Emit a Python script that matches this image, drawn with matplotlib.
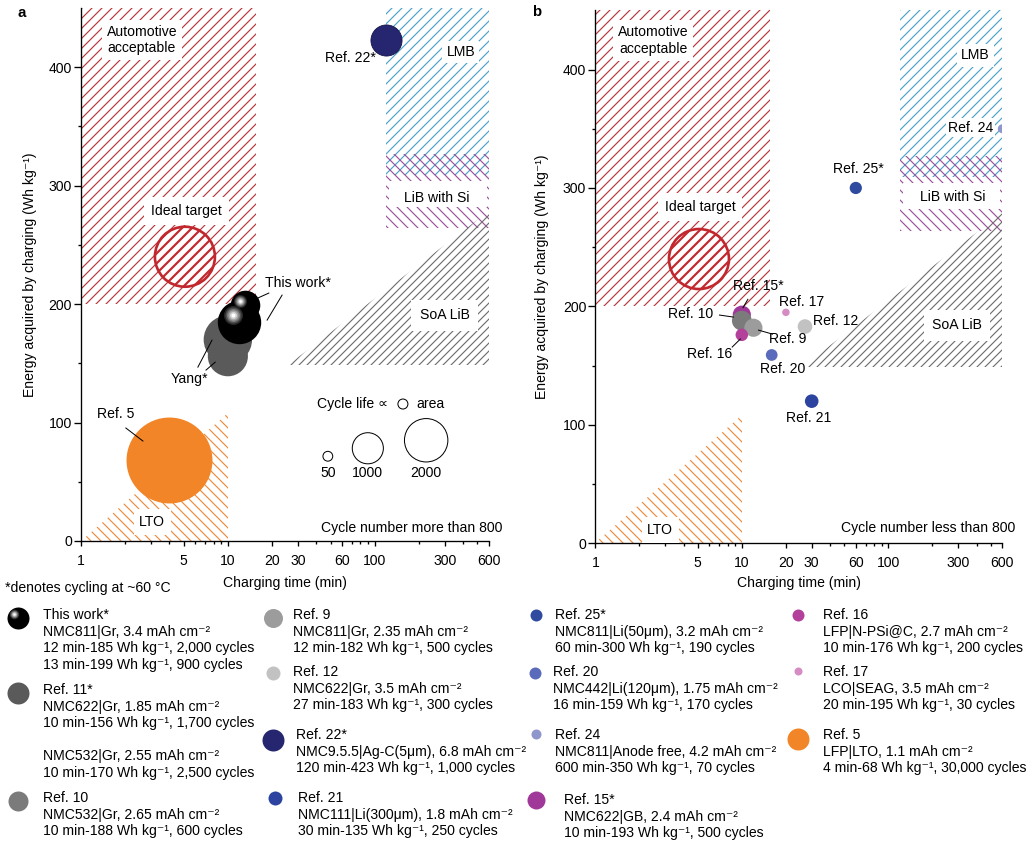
import numpy as np
import matplotlib
matplotlib.use('Agg')
import matplotlib as mpl
import matplotlib.pyplot as plt
from matplotlib.patches import Polygon, Rectangle
from matplotlib.transforms import offset_copy
from matplotlib.ticker import FixedLocator, FixedFormatter, NullFormatter

# ---------------- data ----------------
x_ticks = [1, 5, 10, 20, 30, 60, 100, 300, 600]
x_ticklabels = ['1', '5', '10', '20', '30', '60', '100', '300', '600']
x_minor = [2, 3, 4, 6, 7, 8, 9, 40, 50, 70, 80, 90, 200, 400, 500]
y_ticks = [0, 100, 200, 300, 400]
y_minor = [50, 150, 250, 350]

# regions (charging time, energy)
auto_x = [1, 15.5, 15.5, 1]
auto_y = [200, 200, 450, 450]
lmb_x = [120, 600, 600, 120]
lmb_y = [309, 309, 450, 450]
si_x = [120, 600, 600, 120]
si_y = [264, 264, 327, 327]
soa_x = [25.7, 600, 600]
soa_y = [148.5, 148.5, 279]
lto_x = [1, 10, 10]
lto_y = [0, 0, 108]
ideal_x, ideal_y = 5.1, 240

# panel a: cycle number more than 800
this_work_time = [12, 13]
this_work_energy = [185, 199]
this_work_cycles = [2000, 900]
yang_time = [10, 10]
yang_energy = [156, 170]
yang_cycles = [1700, 2500]
ref22_time, ref22_energy, ref22_cycles = 120, 423, 1000
ref5_time, ref5_energy, ref5_cycles = 4, 68, 30000
legend_cycles = [50, 1000, 2000]

# panel b: cycle number less than 800
b_names = ['Ref. 15*', 'Ref. 10', 'Ref. 9', 'Ref. 16', 'Ref. 17', 'Ref. 12',
           'Ref. 20', 'Ref. 21', 'Ref. 25*', 'Ref. 24']
b_time = [10, 10, 12, 10, 20, 27, 16, 30, 60, 600]
b_energy = [193, 188, 182, 176, 195, 183, 159, 120, 300, 350]
b_cycles = [500, 600, 500, 200, 30, 300, 170, 250, 190, 70]
b_colors = ['#a0389a', '#7b7b7b', '#9c9c9c', '#b3409b', '#d68cc3', '#c2c2c2',
            '#5b6bbb', '#2c44a0', '#2f4b9f', '#8f96cc']

# ---------------- style ----------------
plt.rcParams['font.family'] = ['Liberation Sans', 'DejaVu Sans']
plt.rcParams['font.size'] = 8.4
plt.rcParams['hatch.linewidth'] = 0.7

RED = '#b8363d'
BLUE = '#4aa3c8'
PURPLE = '#9c4f9c'
GRAY = '#707070'
ORANGE_H = '#ec8a3c'
ORANGE = '#f28527'
NAVY = '#25266f'
YANG = '#5a5a5a'
FS = 8.4

DPI = 120
W, H = 1032, 846
fig = plt.figure(figsize=(W / DPI, H / DPI), dpi=DPI)


def px_axes(x0, x1, ytop, ybot):
    return fig.add_axes([x0 / W, 1 - ybot / H, (x1 - x0) / W, (ybot - ytop) / H])


axA = px_axes(81, 489, 8, 541)
axB = px_axes(595.3, 1002.3, 10.3, 543.3)

size_a = lambda c: 0.33 * np.minimum(np.asarray(c, float), 8000) + 18
size_b = lambda c: 0.21 * np.asarray(c, float) + 14


def setup(ax, ylab_x, xlab_y):
    ax.set_xscale('log')
    ax.set_xlim(1, 600)
    ax.set_ylim(0, 450)
    for sp in ['top', 'right']:
        ax.spines[sp].set_visible(False)
    for sp in ['left', 'bottom']:
        ax.spines[sp].set_linewidth(0.8)
    ax.xaxis.set_major_locator(FixedLocator(x_ticks))
    ax.xaxis.set_major_formatter(FixedFormatter(x_ticklabels))
    ax.xaxis.set_minor_locator(FixedLocator(x_minor))
    ax.xaxis.set_minor_formatter(NullFormatter())
    ax.set_yticks(y_ticks)
    ax.set_yticks(y_minor, minor=True)
    ax.tick_params(which='major', length=3.5, width=0.8, labelsize=FS)
    ax.tick_params(which='minor', length=2.0, width=0.8)
    ax.tick_params(axis='x', which='major', length=3.2, pad=4.5)
    ax.tick_params(axis='y', which='major', length=4.0, pad=1.5)
    ax.set_xlabel('Charging time (min)', fontsize=FS)
    ax.set_ylabel('Energy acquired by charging (Wh kg\u207b\u00b9)', fontsize=FS)
    ax.yaxis.set_label_coords(ylab_x, 0.5)
    ax.xaxis.set_label_coords(0.5, xlab_y)

    # regions
    ax.add_patch(Polygon(list(zip(auto_x, auto_y)), closed=True, fc='none', ec=RED,
                         lw=0, hatch='////', zorder=1))
    ax.add_patch(Polygon(list(zip(lmb_x, lmb_y)), closed=True, fc='none', ec=BLUE,
                         lw=0, hatch='////', zorder=1))
    ax.add_patch(Polygon(list(zip(si_x, si_y)), closed=True, fc='none', ec=PURPLE,
                         lw=0, hatch='\\\\\\\\', zorder=1))
    ax.add_patch(Polygon(list(zip(soa_x, soa_y)), closed=True, fc='none', ec=GRAY,
                         lw=0, hatch='/////', zorder=1))
    ax.add_patch(Polygon(list(zip(lto_x, lto_y)), closed=True, fc='none', ec=ORANGE_H,
                         lw=0, hatch='\\\\\\\\', zorder=1))
    # white box behind "LiB with Si"
    ax.add_patch(Rectangle((126, 282), 580 - 126, 22, fc='white', ec='none', zorder=1.5))
    # ideal target
    with mpl.rc_context({'hatch.color': '#c1272d', 'hatch.linewidth': 1.3}):
        sc = ax.scatter([ideal_x], [ideal_y], s=1296, facecolor='white', edgecolor='#c1272d',
                        linewidths=1.6, hatch='////', zorder=2)
        if hasattr(sc, 'set_hatch_linewidth'):
            sc.set_hatch_linewidth(1.3)


setup(axA, -0.108, -0.066)
setup(axB, -0.114, -0.061)

box = dict(boxstyle='square,pad=0.3', fc='white', ec='none')


def region_labels(ax, auto_pos, ideal_pos, lmb_pos, si_pos, soa_pos, lto_pos):
    ax.text(*auto_pos, 'Automotive\nacceptable', ha='center', va='center', fontsize=FS,
            linespacing=1.25, bbox=dict(boxstyle='square,pad=0.35', fc='white', ec='none'),
            zorder=3)
    ax.text(*ideal_pos, 'Ideal target', ha='center', va='center', fontsize=FS,
            bbox=dict(boxstyle='square,pad=0.5', fc='white', ec='none'), zorder=3)
    ax.text(*lmb_pos, 'LMB', ha='center', va='center', fontsize=FS, bbox=box, zorder=3)
    ax.text(*si_pos, 'LiB with Si', ha='center', va='center', fontsize=FS, zorder=3)
    ax.text(*soa_pos, 'SoA LiB', ha='center', va='center', fontsize=FS,
            bbox=dict(boxstyle='square,pad=0.6', fc='white', ec='none'), zorder=3)
    ax.text(*lto_pos, 'LTO', ha='center', va='center', fontsize=FS,
            bbox=dict(boxstyle='square,pad=0.4', fc='white', ec='none'), zorder=3)


region_labels(axA, (2.6, 423), (5.25, 278.5), (386, 412.6), (265, 290), (300, 190.7), (3.05, 16))
region_labels(axB, (2.48, 424.7), (5.18, 283.8), (392, 412), (277, 292), (295, 184), (2.77, 11.2))


def sphere(ax, x, y, s, zorder, trans=None):
    base = ax.transData if trans is None else trans
    ax.scatter([x], [y], s=s, c='black', lw=0, zorder=zorder, transform=base)
    R = np.sqrt(s) / 2.0
    tr = offset_copy(base, fig=fig, x=-0.32 * R, y=0.32 * R, units='points')
    for frac, col in [(0.44, '#262626'), (0.37, '#4f4f4f'), (0.30, '#7d7d7d'),
                      (0.23, '#a8a8a8'), (0.16, '#d5d5d5'), (0.09, '#ffffff')]:
        ax.scatter([x], [y], s=(2 * frac * R) ** 2, c=col, lw=0, transform=tr,
                   zorder=zorder + 0.01)


# ---- panel a marks ----
axA.scatter(yang_time, yang_energy, s=size_a(yang_cycles), c=YANG, lw=0, zorder=4)
for t, e, c in zip(this_work_time, this_work_energy, this_work_cycles):
    sphere(axA, t, e, float(size_a(c)), 5)
axA.scatter([ref22_time], [ref22_energy], s=size_a(ref22_cycles), c=NAVY,
            edgecolor='#15154a', lw=0.5, zorder=4)
axA.scatter([ref5_time], [ref5_energy], s=size_a(ref5_cycles), c=ORANGE, lw=0, zorder=4)

lk = dict(color='black', lw=0.6, zorder=6)
axA.text(29.8, 217.7, 'This work*', ha='center', va='center', fontsize=FS, zorder=6)
axA.plot([15.9, 19.0], [205, 209.3], **lk)
axA.plot([23.4, 18.5], [207.6, 186.5], **lk)
axA.text(5.5, 136.7, 'Yang*', ha='center', va='center', fontsize=FS, zorder=6)
axA.plot([6.25, 7.8], [146.8, 169.6], **lk)
axA.plot([7.1, 8.2], [144.3, 151], **lk)
axA.text(102, 408, 'Ref. 22*', ha='right', va='center', fontsize=FS, zorder=6)
axA.text(1.73, 107, 'Ref. 5', ha='center', va='center', fontsize=FS, zorder=6)
axA.plot([2.02, 2.64], [95.4, 84.4], **lk)

# cycle life legend
axA.text(0.752, 0.257, 'Cycle life \u221d', transform=axA.transAxes, ha='right',
         va='center', fontsize=FS)
axA.scatter([0.789], [0.257], s=36, facecolor='none', edgecolor='black', lw=0.6,
            transform=axA.transAxes, clip_on=False)
axA.text(0.821, 0.257, 'area', transform=axA.transAxes, ha='left', va='center', fontsize=FS)
for fx, fy, c in zip([0.605, 0.703, 0.846], [0.159, 0.174, 0.189], legend_cycles):
    axA.scatter([fx], [fy], s=size_a(c), facecolor='none', edgecolor='black', lw=0.6,
                transform=axA.transAxes, clip_on=False, zorder=4)
    axA.text(fx, 0.128, f'{c}', transform=axA.transAxes, ha='center', va='center',
             fontsize=FS)
axA.text(1.032, 0.024, 'Cycle number more than 800', transform=axA.transAxes,
         ha='right', va='center', fontsize=FS)

# ---- panel b marks ----
axB.scatter(b_time, b_energy, s=size_b(b_cycles), c=b_colors, lw=0, zorder=4)
b_label_pos = {'Ref. 15*': (12.9, 217), 'Ref. 17': (25.8, 203.6), 'Ref. 12': (44, 187.6),
               'Ref. 10': (4.5, 193.5), 'Ref. 9': (20.7, 172.4), 'Ref. 16': (6.07, 159.8),
               'Ref. 20': (18.9, 147), 'Ref. 21': (28.8, 105.7), 'Ref. 25*': (62.4, 315.8)}
for name in b_names:
    if name in b_label_pos:
        axB.text(*b_label_pos[name], name, ha='center', va='center', fontsize=FS, zorder=6)
axB.text(521, 351, 'Ref. 24', ha='right', va='center', fontsize=FS, zorder=6,
         bbox=dict(boxstyle='square,pad=0.15', fc='white', ec='none'))
axB.plot([10.2, 11.0], [199, 206], **lk)
axB.plot([7.04, 8.77], [192.7, 191], **lk)
axB.plot([16.2, 13.0], [176.6, 180], **lk)
axB.plot([8.6, 9.78], [165.7, 172.5], **lk)
axB.text(1.031, 0.029, 'Cycle number less than 800', transform=axB.transAxes,
         ha='right', va='center', fontsize=FS)

# panel letters
fig.text(18 / W, 1 - 13 / H, 'a', fontsize=9, fontweight='bold', va='center', ha='left')
fig.text(532 / W, 1 - 12 / H, 'b', fontsize=9, fontweight='bold', va='center', ha='left')

# ---------------- bottom legend ----------------
ov = fig.add_axes([0, 0, 1, 1])
ov.set_xlim(0, W)
ov.set_ylim(H, 0)
ov.axis('off')
ov.patch.set_visible(False)

ov.text(5, 588, '*denotes cycling at ~60 \u00b0C', ha='left', va='center', fontsize=FS)

cm2 = 'mAh cm\u207b\u00b2'
kg = 'Wh kg\u207b\u00b9'
legend_entries = [
    # (marker x, marker y, radius px, color, text x, text y, lines)
    (18, 618, 11, 'sphere', 43, 615,
     ['This work*', f'NMC811|Gr, 3.4 {cm2}', f'12 min-185 {kg}, 2,000 cycles',
      f'13 min-199 {kg}, 900 cycles']),
    (18, 693, 11, YANG, 43, 690,
     ['Ref. 11*', f'NMC622|Gr, 1.85 {cm2}', f'10 min-156 {kg}, 1,700 cycles', '',
      f'NMC532|Gr, 2.55 {cm2}', f'10 min-170 {kg}, 2,500 cycles']),
    (18, 801, 10, '#7b7b7b', 43, 798,
     ['Ref. 10', f'NMC532|Gr, 2.65 {cm2}', f'10 min-188 {kg}, 600 cycles']),
    (273, 618, 9.5, '#9c9c9c', 293, 615,
     ['Ref. 9', f'NMC811|Gr, 2.35 {cm2}', f'12 min-182 {kg}, 500 cycles']),
    (273, 673, 7, '#c2c2c2', 293, 672,
     ['Ref. 12', f'NMC622|Gr, 3.5 {cm2}', f'27 min-183 {kg}, 300 cycles']),
    (273, 740, 11, NAVY, 296, 735,
     ['Ref. 22*', f'NMC9.5.5|Ag-C(5\u03bcm), 6.8 {cm2}', f'120 min-423 {kg}, 1,000 cycles']),
    (275, 798, 7, '#2c44a0', 298, 798,
     ['Ref. 21', f'NMC111|Li(300\u03bcm), 1.8 {cm2}', f'30 min-135 {kg}, 250 cycles']),
    (536, 615, 6, '#2f4b9f', 555, 615,
     ['Ref. 25*', f'NMC811|Li(50\u03bcm), 3.2 {cm2}', f'60 min-300 {kg}, 190 cycles']),
    (535, 673, 6, '#5b6bbb', 553, 672,
     ['Ref. 20', f'NMC442|Li(120\u03bcm), 1.75 {cm2}', f'16 min-159 {kg}, 170 cycles']),
    (536, 734, 5, '#8f96cc', 555, 735,
     ['Ref. 24', f'NMC811|Anode free, 4.2 {cm2}', f'600 min-350 {kg}, 70 cycles']),
    (536, 800, 9, '#a0389a', 564, 800,
     ['Ref. 15*', f'NMC622|GB, 2.4 {cm2}', f'10 min-193 {kg}, 500 cycles']),
    (798, 615, 6, '#b3409b', 823, 615,
     ['Ref. 16', f'LFP|N-PSi@C, 2.7 {cm2}', f'10 min-176 {kg}, 200 cycles']),
    (798, 671, 4, '#d68cc3', 823, 672,
     ['Ref. 17', f'LCO|SEAG, 3.5 {cm2}', f'20 min-195 {kg}, 30 cycles']),
    (798, 739, 11, ORANGE, 823, 735,
     ['Ref. 5', f'LFP|LTO, 1.1 {cm2}', f'4 min-68 {kg}, 30,000 cycles']),
]
LS = 16.6
for mx, my, r, col, tx, ty, lines in legend_entries:
    s = (2 * r * 0.6) ** 2
    if col == 'sphere':
        sphere(ov, mx, my, s, 5)
    else:
        ov.scatter([mx], [my], s=s, c=col, lw=0, clip_on=False)
    for i, ln in enumerate(lines):
        if ln:
            ov.text(tx, ty + i * LS, ln, ha='left', va='center', fontsize=FS)

fig.savefig('out.png', dpi=DPI)
